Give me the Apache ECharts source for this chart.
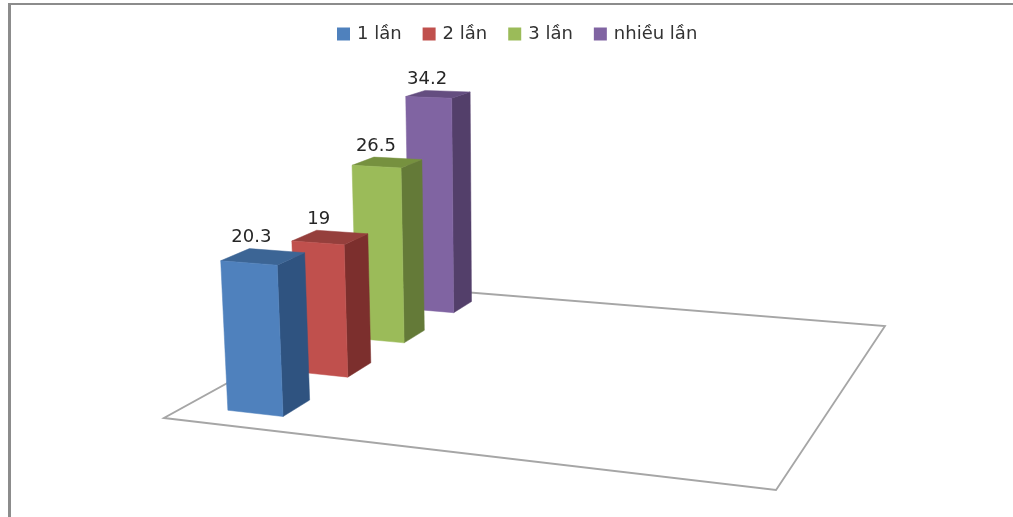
<!DOCTYPE html>
<html>
<head>
<meta charset="utf-8">
<style>html,body{margin:0;padding:0;background:#fff;}#chart{width:1013px;height:517px;}</style>
<script src="https://cdn.jsdelivr.net/npm/echarts@6/dist/echarts.min.js"></script>
</head>
<body>
<div id="chart"></div>
<script>
// Frequency groups and their percentages
var groupNames = ['1 lần', '2 lần', '3 lần', 'nhiều lần'];
var groupValues = [20.3, 19, 26.5, 34.2];

// Front, side and top shades of each column
var frontColors = ['#4f81bd', '#c0504d', '#9bbb59', '#8064a2'];
var sideColors = ['#2f5380', '#7c2f2d', '#647a38', '#533f6a'];
var topColors = ['#3c6595', '#953f3c', '#76913f', '#644d80'];

// Perspective view of the floor: unit square (s, t) to screen, plus vanishing point of the verticals
var G = -0.1307, H = 0.2966;
var A = 510.6, B = 357.2, C = 164;
var D = 7.96, E = -45.9, F = 418;
var VP_X = 510, VP_Y = 6300;
var COLUMN_DEPTH = 0.1;

function project(s, t, lift) {
  var w = 1 + G * s + H * t;
  var X = A * s + B * t + C;
  var Y = D * s + E * t + F;
  var d = w - lift / VP_Y;
  return [(X - lift * VP_X / VP_Y) / d, (Y - lift) / d];
}

function renderColumn(params, api) {
  var i = api.value(0);
  var v = api.value(1);
  var p = api.coord([i, v]);
  var base = api.coord([i, 0]);
  var lift = base[1] - p[1];
  var t = (p[0] - params.coordSys.x) / params.coordSys.width;
  var t0 = t - COLUMN_DEPTH / 2, t1 = t + COLUMN_DEPTH / 2;
  // Column edges along the floor's front direction, narrowing slightly towards the back
  var s0 = 0.076 + 0.016 * t, s1 = 0.179 + 0.008 * t;
  var fl = project(s0, t0, 0), fr = project(s1, t0, 0), br = project(s1, t1, 0);
  var ftl = project(s0, t0, lift), ftr = project(s1, t0, lift);
  var btr = project(s1, t1, lift), btl = project(s0, t1, lift);
  function face(points, fill) {
    return { type: 'polygon', shape: { points: points }, style: { fill: fill, stroke: fill, lineWidth: 0.5 } };
  }
  return {
    type: 'group',
    children: [
      face([fr, br, btr, ftr], sideColors[i]),
      face([ftl, ftr, btr, btl], topColors[i]),
      face([fl, fr, ftr, ftl], frontColors[i]),
      {
        type: 'text',
        style: {
          text: String(v),
          x: btl[0] + 2,
          y: btl[1] - 11,
          align: 'center',
          verticalAlign: 'middle',
          fontFamily: 'DejaVu Sans',
          fontSize: 18,
          fill: '#262626'
        }
      }
    ]
  };
}

function renderFloor(params, api) {
  return {
    type: 'polygon',
    shape: { points: [project(0, 0, 0), project(1, 0, 0), project(1, 1, 0), project(0, 1, 0)] },
    style: { fill: 'none', stroke: '#a6a6a6', lineWidth: 1.8 }
  };
}

var series = [{
  type: 'custom',
  silent: true,
  z: 1,
  renderItem: renderFloor,
  data: [[0, 0]]
}];
groupNames.forEach(function (name, i) {
  series.push({
    name: name,
    type: 'custom',
    z: 10 - i,
    renderItem: renderColumn,
    itemStyle: { color: frontColors[i] },
    encode: { x: 0, y: 1 },
    data: [[i, groupValues[i]]]
  });
});

var chart = echarts.init(document.getElementById('chart'), null, { renderer: 'canvas' });
chart.setOption({
  animation: false,
  backgroundColor: '#ffffff',
  grid: { left: 100, top: 100, width: 800, height: 311 },
  xAxis: { type: 'category', data: groupNames, show: false },
  yAxis: { type: 'value', min: 0, max: 40, interval: 10, show: false },
  legend: {
    left: 332,
    top: 20,
    icon: 'rect',
    itemWidth: 13,
    itemHeight: 13,
    itemGap: 21,
    data: groupNames,
    textStyle: { fontFamily: 'DejaVu Sans', fontSize: 18, color: '#333333', padding: [0, 0, 0, 2] }
  },
  graphic: [
    { type: 'rect', shape: { x: 8, y: 3, width: 3, height: 514 }, style: { fill: '#8c8c8c' } },
    { type: 'rect', shape: { x: 8, y: 3, width: 1005, height: 2 }, style: { fill: '#8c8c8c' } }
  ],
  series: series
});
</script>
</body>
</html>
